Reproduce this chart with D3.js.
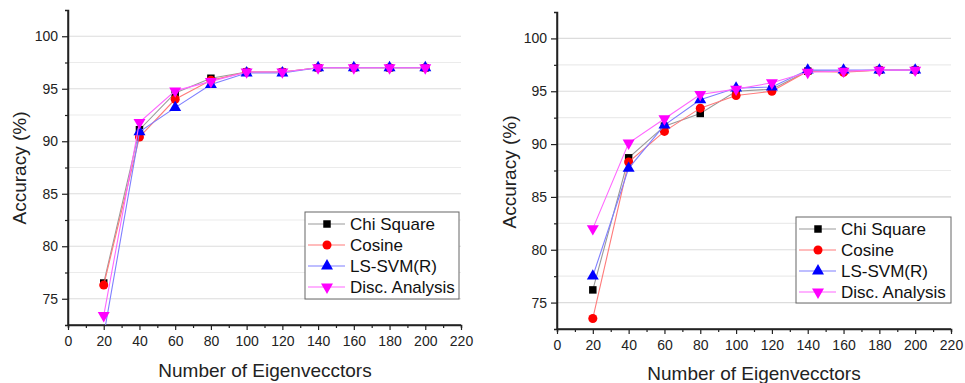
<!DOCTYPE html>
<html>
<head>
<meta charset="utf-8">
<script src="https://cdn.jsdelivr.net/npm/d3@7"></script>
<style>
  body { margin: 0; background: #fff; }
  svg { display: block; }
</style>
</head>
<body>
<svg id="chart"></svg>
<script>
const eigen = [20, 40, 60, 80, 100, 120, 140, 160, 180, 200];
const seriesNames = ["Chi Square", "Cosine", "LS-SVM(R)", "Disc. Analysis"];
const xTicks = [0, 20, 40, 60, 80, 100, 120, 140, 160, 180, 200, 220];
const yTicks = [75, 80, 85, 90, 95, 100];

// left panel
const leftChi    = [76.5, 91.1, 94.6, 96.0, 96.6, 96.6, 97.0, 97.0, 97.0, 97.0];
const leftCosine = [76.3, 90.4, 94.0, 95.8, 96.6, 96.6, 97.0, 97.0, 97.0, 97.0];
const leftSvm    = [71.5, 90.9, 93.2, 95.4, 96.5, 96.5, 97.0, 97.0, 97.0, 97.0];
const leftDisc   = [73.4, 91.8, 94.8, 95.7, 96.6, 96.6, 97.0, 97.0, 97.0, 97.0];

// right panel
const rightChi    = [76.2, 88.7, 91.7, 92.9, 95.0, 95.2, 96.9, 96.9, 97.0, 97.0];
const rightCosine = [73.5, 88.3, 91.2, 93.4, 94.6, 95.0, 96.9, 96.8, 97.0, 97.0];
const rightSvm    = [77.5, 87.7, 91.8, 94.2, 95.3, 95.4, 97.0, 97.0, 97.0, 97.0];
const rightDisc   = [82.0, 90.1, 92.4, 94.7, 95.2, 95.8, 96.8, 96.9, 97.0, 97.0];

const lineColors = ["#9a9a9a", "#ff7a7a", "#7f7fff", "#ff66ff"];
const markColors = ["#000000", "#ff0000", "#0000ff", "#ff00ff"];
const symbols = [d3.symbolSquare, d3.symbolCircle, d3.symbolTriangle, d3.symbolTriangle];
const symSizes = [56, 64, 62, 62];
const symRotate = [0, 0, 0, 180];

const font = "'Liberation Sans', Arial, sans-serif";

const svg = d3.select("#chart").attr("width", 965).attr("height", 383);

function drawPanel(id, box, values, legendBox, titleX, titleY, yTitleX, yTitleY) {
    const g = svg.append("g").attr("id", id);

    const x = d3.scaleLinear().domain([0, 220]).range([box.left, box.right]);
    const y = d3.scaleLinear().domain([72.5, 102.5]).range([box.bottom, box.top]);

    // grid lines, every 2.5
    const gridVals = d3.range(75, 102.5, 2.5);
    g.append("g").selectAll("line").data(gridVals).enter().append("line")
        .attr("x1", box.left).attr("x2", box.right)
        .attr("y1", d => y(d)).attr("y2", d => y(d))
        .attr("stroke", d => d % 5 === 0 ? "#dcdcdc" : "#ebebeb")
        .attr("stroke-width", 1.2);

    // axes
    const yAxis = d3.axisLeft(y).tickValues(yTicks).tickSize(6).tickPadding(4);
    const yMinor = d3.axisLeft(y).tickValues(d3.range(77.5, 102.5, 5)).tickSize(3).tickFormat("");
    const xAxis = d3.axisBottom(x).tickValues(xTicks).tickSize(5).tickPadding(6);
    const xMinor = d3.axisBottom(x).tickValues(d3.range(10, 220, 20)).tickSize(3).tickFormat("");

    const ya = g.append("g").attr("transform", `translate(${box.left},0)`).call(yAxis);
    g.append("g").attr("transform", `translate(${box.left},0)`).call(yMinor);
    const xa = g.append("g").attr("transform", `translate(0,${box.bottom})`).call(xAxis);
    g.append("g").attr("transform", `translate(0,${box.bottom})`).call(xMinor);

    g.selectAll(".domain").attr("stroke", "#222").attr("stroke-width", 1.5);
    g.selectAll(".tick line").attr("stroke", "#222").attr("stroke-width", 1.2);
    g.selectAll(".tick text").attr("font-family", font).attr("font-size", 14).attr("fill", "#222");

    // y axis extends to top of plot
    ya.select(".domain").attr("d", `M0,${box.bottom}V${box.top}`);
    xa.select(".domain").attr("d", `M${box.left},0H${box.right}`);

    // titles
    g.append("text").text("Number of Eigenvecctors")
        .attr("x", titleX).attr("y", titleY)
        .attr("text-anchor", "middle")
        .attr("font-family", font).attr("font-size", 19).attr("fill", "#222");
    g.append("text").text("Accuracy (%)")
        .attr("transform", `translate(${yTitleX},${yTitleY}) rotate(-90)`)
        .attr("text-anchor", "middle")
        .attr("font-family", font).attr("font-size", 19).attr("fill", "#222");

    // clip
    g.append("clipPath").attr("id", id + "-clip")
        .append("rect")
        .attr("x", box.left).attr("y", box.top)
        .attr("width", box.right - box.left).attr("height", box.bottom - box.top);

    const plot = g.append("g").attr("clip-path", `url(#${id}-clip)`);
    const line = d3.line().x((d, i) => x(eigen[i])).y(d => y(d));

    values.forEach((vals, s) => {
        const sg = plot.append("g");
        sg.append("path").datum(vals)
            .attr("d", line)
            .attr("fill", "none")
            .attr("stroke", lineColors[s])
            .attr("stroke-width", 1.1);
        sg.selectAll("path.mark").data(vals).enter().append("path")
            .attr("class", "mark")
            .attr("d", d3.symbol().type(symbols[s]).size(symSizes[s]))
            .attr("transform", (d, i) => `translate(${x(eigen[i])},${y(d)}) rotate(${symRotate[s]})`)
            .attr("fill", markColors[s]);
    });

    // legend
    const lg = g.append("g");
    lg.append("rect")
        .attr("x", legendBox.x).attr("y", legendBox.y)
        .attr("width", legendBox.w).attr("height", legendBox.h)
        .attr("fill", "#fff").attr("stroke", "#666").attr("stroke-width", 1);
    seriesNames.forEach((name, s) => {
        const ly = legendBox.y + 12 + s * 21;
        const mx = legendBox.x + 22;
        lg.append("line")
            .attr("x1", legendBox.x + 3).attr("x2", legendBox.x + 40)
            .attr("y1", ly).attr("y2", ly)
            .attr("stroke", lineColors[s]).attr("stroke-width", 1.1);
        lg.append("path")
            .attr("d", d3.symbol().type(symbols[s]).size(symSizes[s]))
            .attr("transform", `translate(${mx},${ly}) rotate(${symRotate[s]})`)
            .attr("fill", markColors[s]);
        lg.append("text").text(name)
            .attr("x", legendBox.x + 45).attr("y", ly + 6)
            .attr("font-family", font).attr("font-size", 17).attr("fill", "#111");
    });
}

drawPanel("left", {left: 68, right: 461, top: 10, bottom: 325},
    [leftChi, leftCosine, leftSvm, leftDisc],
    {x: 305, y: 212, w: 154, h: 87}, 265, 377, 26, 168);

drawPanel("right", {left: 557, right: 951, top: 12, bottom: 329},
    [rightChi, rightCosine, rightSvm, rightDisc],
    {x: 796, y: 217, w: 155, h: 86}, 754, 380, 516, 172);
</script>
</body>
</html>
